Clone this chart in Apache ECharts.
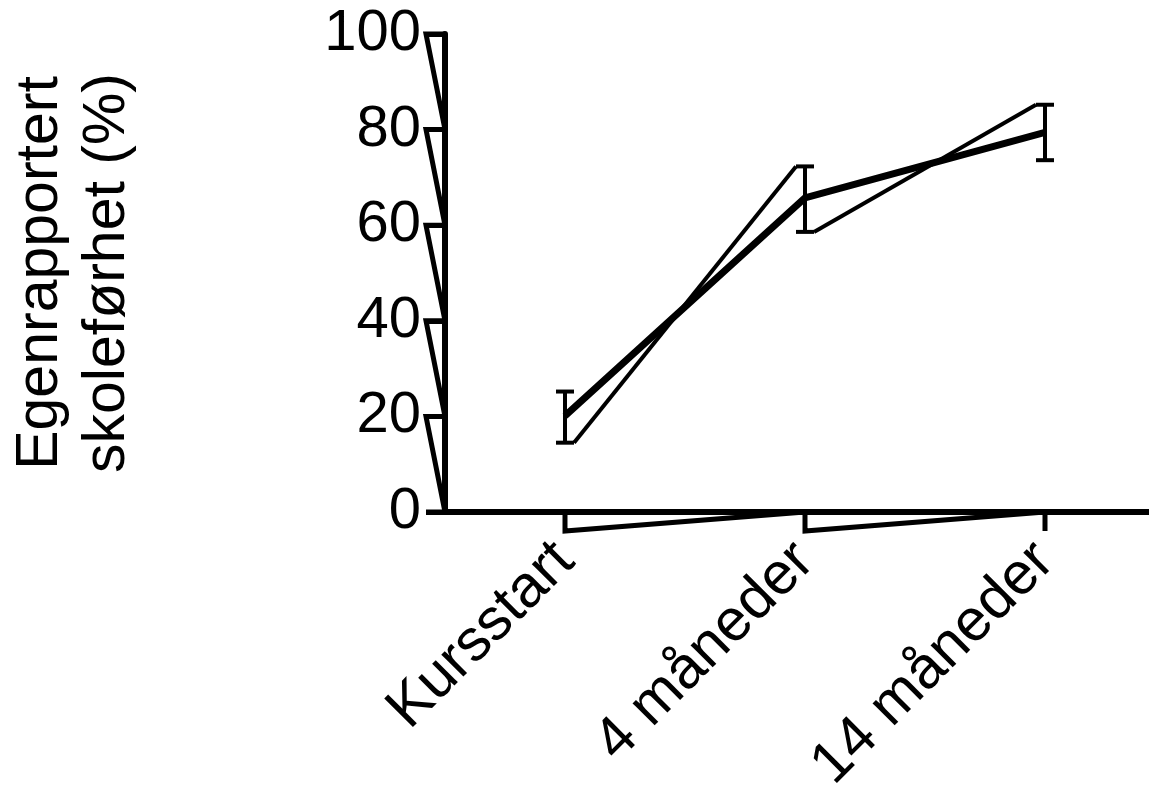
<!DOCTYPE html>
<html>
<head>
<meta charset="utf-8">
<script src="https://cdn.jsdelivr.net/npm/echarts@6/dist/echarts.min.js"></script>
<style>
  html, body { margin: 0; padding: 0; background: #fff; }
  #chart { width: 1149px; height: 788px; }
</style>
</head>
<body>
<div id="chart"></div>
<script>
var categories = ['Kursstart', '4 måneder', '14 måneder'];
var meanValues = [20.1, 65.7, 79.4];
var upperValues = [25.2, 72.3, 85.2];
var lowerValues = [14.5, 58.6, 73.6];
var yTicks = [100, 80, 60, 40, 20, 0];

var font = '"Liberation Sans", Arial, Helvetica, sans-serif';
var tickLen = 19;

var chart = echarts.init(document.getElementById('chart'));

// error bars, thin line goes from low cap of one point to high cap of next
function renderErrorBar(params, api) {
  var i = api.value(0);
  var hi = api.coord([i, api.value(2)]);
  var lo = api.coord([i, api.value(1)]);
  var w = 9;
  var st = { stroke: '#000', lineWidth: 4, lineCap: 'butt' };
  var kids = [
    { type: 'line', shape: { x1: hi[0] - w, y1: hi[1], x2: hi[0] + w, y2: hi[1] }, style: st },
    { type: 'line', shape: { x1: hi[0], y1: hi[1], x2: lo[0], y2: lo[1] }, style: st },
    { type: 'line', shape: { x1: lo[0] - w, y1: lo[1], x2: lo[0] + w, y2: lo[1] }, style: st }
  ];
  if (i < categories.length - 1) {
    var nx = api.coord([i + 1, upperValues[i + 1]]);
    kids.push({ type: 'line', shape: { x1: lo[0] + w, y1: lo[1], x2: nx[0] - w, y2: nx[1] }, style: st });
  }
  return { type: 'group', children: kids };
}

// tick marks joined up into one path (as in the original picture)
function renderTickPaths(params, api) {
  var cs = params.coordSys;
  var ax = cs.x;
  var ay = cs.y + cs.height;
  var yPts = [];
  for (var k = 0; k < yTicks.length; k++) {
    var y = api.coord([0, yTicks[k]])[1];
    yPts.push([ax, y], [ax - tickLen, y]);
  }
  var xPts = [];
  for (var j = 0; j < categories.length; j++) {
    var x = api.coord([j, 0])[0];
    xPts.push([x, ay], [x, ay + tickLen]);
  }
  var st = { stroke: '#000', fill: null, lineWidth: 5, lineJoin: 'miter' };
  return {
    type: 'group',
    children: [
      { type: 'polyline', shape: { points: yPts }, style: st },
      { type: 'polyline', shape: { points: xPts }, style: st }
    ]
  };
}

var option = {
  animation: false,
  backgroundColor: '#fff',
  grid: {
    left: 445,
    right: -16,
    top: 34,
    bottom: 276,
    outerBoundsMode: 'none'
  },
  xAxis: {
    type: 'category',
    data: categories,
    boundaryGap: true,
    axisLine: { lineStyle: { color: '#000', width: 6 } },
    axisTick: { alignWithLabel: true, length: tickLen, lineStyle: { color: '#000', width: 5 } },
    axisLabel: {
      interval: 0,
      rotate: 45,
      margin: 40,
      color: '#000',
      fontSize: 59,
      fontFamily: font
    },
    splitLine: { show: false }
  },
  yAxis: {
    type: 'value',
    min: 0,
    max: 100,
    interval: 20,
    name: 'Egenrapportert\nskoleførhet (%)',
    nameLocation: 'middle',
    nameRotate: 90,
    nameGap: 304,
    nameTextStyle: { color: '#000', fontSize: 59, fontFamily: font, lineHeight: 67 },
    axisLine: { show: true, lineStyle: { color: '#000', width: 6 } },
    axisTick: { show: true, length: tickLen, lineStyle: { color: '#000', width: 5 } },
    axisLabel: { margin: 24, color: '#000', fontSize: 58, fontFamily: font },
    splitLine: { show: false }
  },
  series: [
    {
      type: 'line',
      data: meanValues,
      symbol: 'none',
      lineStyle: { color: '#000', width: 7 },
      z: 3
    },
    {
      type: 'custom',
      data: categories.map(function (c, i) { return [i, lowerValues[i], upperValues[i]]; }),
      renderItem: renderErrorBar,
      z: 4
    },
    {
      type: 'custom',
      data: [[0, 0]],
      renderItem: renderTickPaths,
      clip: false,
      silent: true,
      z: 5
    }
  ]
};

chart.setOption(option);
</script>
</body>
</html>
